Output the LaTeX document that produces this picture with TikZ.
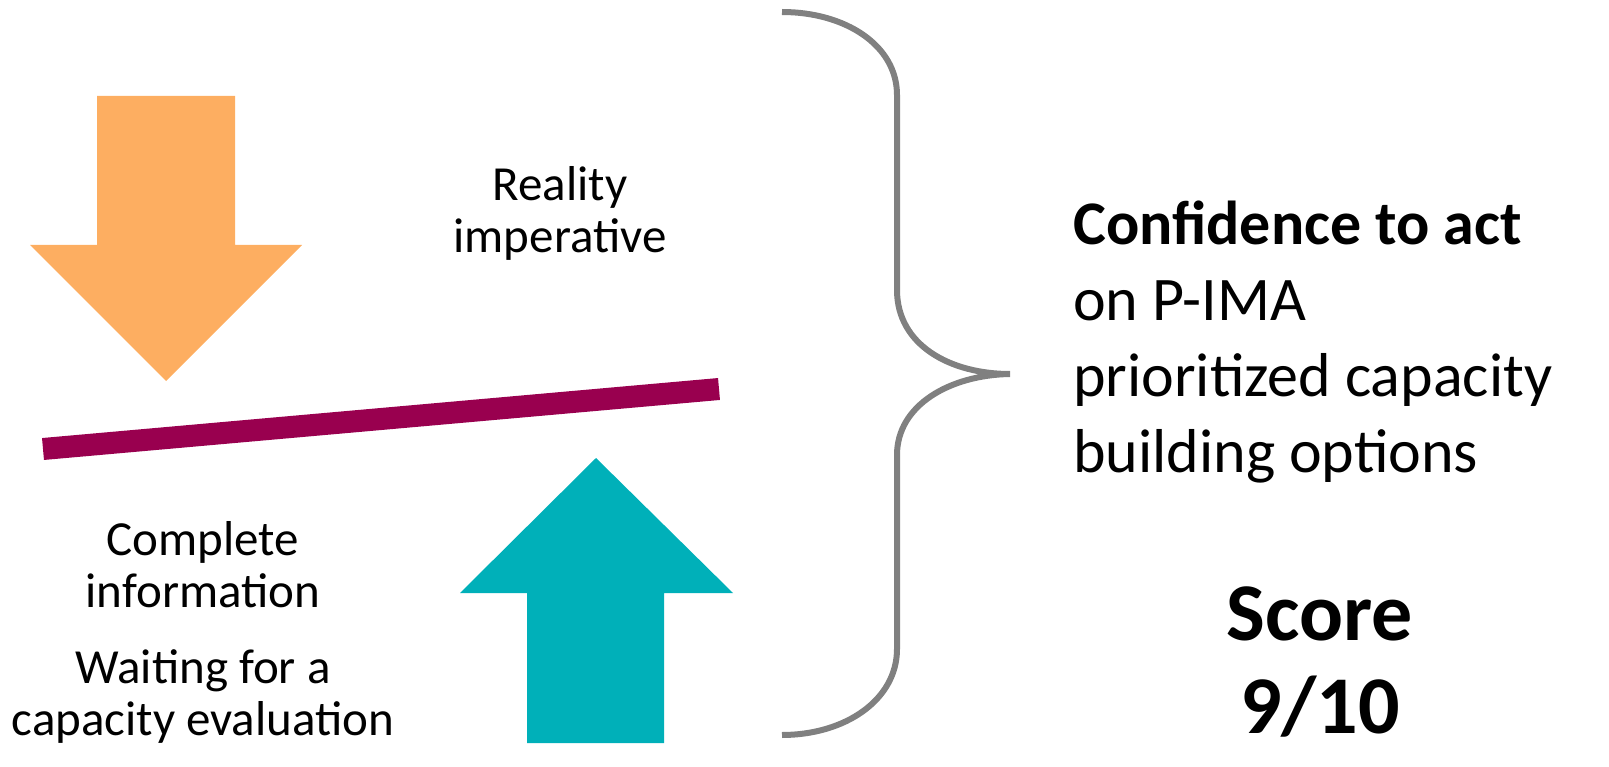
\documentclass[tikz,border=0pt]{standalone}
\usepackage{fontspec}
\setmainfont{Carlito}
\definecolor{orangeA}{HTML}{FDAE61}
\definecolor{magentaA}{HTML}{99004F}
\definecolor{tealA}{HTML}{00B0B9}
\definecolor{braceA}{HTML}{808080}
\begin{document}
\begin{tikzpicture}[x=1pt,y=-1pt,
  lbl/.style={align=center,inner sep=0pt,anchor=base,font=\fontsize{49}{52}\selectfont},
  rlbl/.style={align=left,inner sep=0pt,anchor=base west,font=\fontsize{62}{76}\selectfont},
  scorelbl/.style={align=center,inner sep=0pt,anchor=base,font=\bfseries\fontsize{82}{93}\selectfont}]
\useasboundingbox (0,0) rectangle (1609,767);
% orange down arrow
\fill[orangeA] (97,96) -- (235,96) -- (235,245) -- (302,245) -- (166,381) -- (30,245) -- (97,245) -- cycle;
% teal up arrow
\fill[tealA] (527,743) -- (664,743) -- (664,593) -- (733,593) -- (596,458) -- (460,593) -- (527,593) -- cycle;
% magenta bar
\coordinate (barL) at (43,449);
\coordinate (barR) at (719,389);
\draw[magentaA,line width=22pt] (barL) -- (barR);
% brace
\draw[braceA,line width=6pt]
  (782,12) .. controls (845,12) and (897,45) .. (897,95) -- (897,290)
  .. controls (897,345) and (950,374) .. (1010,374)
  .. controls (950,375) and (897,405) .. (897,455) -- (897,649)
  .. controls (897,700) and (845,735) .. (782,735);
% texts
\node[lbl] (reality) at (560,253) {Reality\\imperative};
\node[lbl] (complete) at (203,607) {Complete\\information};
\node[lbl] (waiting) at (203,735) {Waiting for a\\capacity evaluation};
\node[rlbl] (conf) at (1073,472) {\textbf{Confidence to act}\\on P-IMA\\prioritized capacity\\building options};
\node[scorelbl] (score) at (1320,733) {Score\\9/10};
\end{tikzpicture}
\end{document}
